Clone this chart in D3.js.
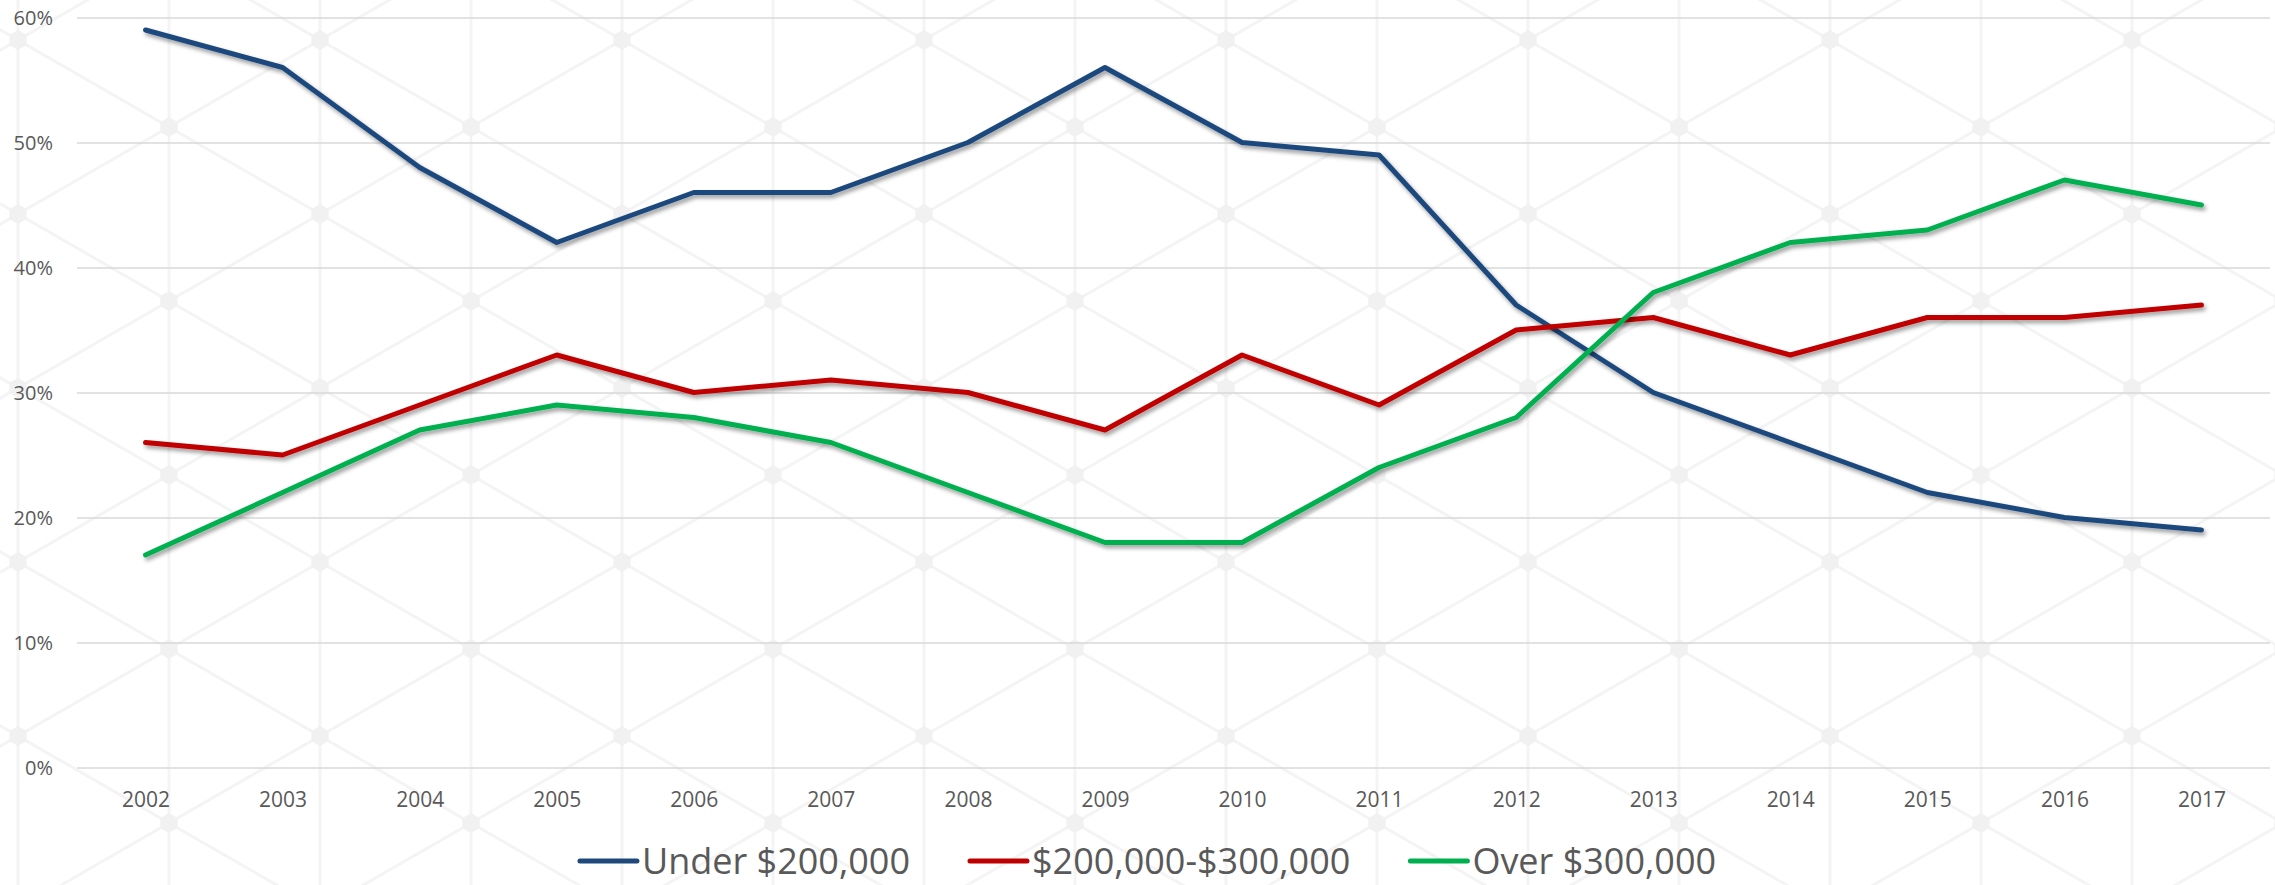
<!DOCTYPE html>
<html>
<head>
<meta charset="utf-8">
<script src="https://cdn.jsdelivr.net/npm/d3@7"></script>
<style>
  html, body { margin: 0; padding: 0; background: #fff; }
  #svg-container { width: 2275px; height: 885px; }
  text { font-family: "Open Sans", sans-serif; fill: #595959; }
</style>
</head>
<body>
<div id="svg-container"></div>
<script>
//////////////////////////////  Data  //////////////////////////////
const years = ["2002", "2003", "2004", "2005", "2006", "2007", "2008", "2009",
  "2010", "2011", "2012", "2013", "2014", "2015", "2016", "2017"];
const under200 = [59, 56, 48, 42, 46, 46, 50, 56, 50, 49, 37, 30, 26, 22, 20, 19];
const mid200to300 = [26, 25, 29, 33, 30, 31, 30, 27, 33, 29, 35, 36, 33, 36, 36, 37];
const over300 = [17, 22, 27, 29, 28, 26, 22, 18, 18, 24, 28, 38, 42, 43, 47, 45];
const seriesNames = ["Under $200,000", "$200,000-$300,000", "Over $300,000"];
const yTicks = [0, 10, 20, 30, 40, 50, 60];

const series = [
  { name: seriesNames[0], values: under200, color: "#1f497d" },
  { name: seriesNames[1], values: mid200to300, color: "#c00000" },
  { name: seriesNames[2], values: over300, color: "#00b050" }
];

//////////////////////////////  Init  //////////////////////////////
const width = 2275;
const height = 885;
const margin = { top: 17.5, right: 5, bottom: 117.5, left: 77 };

const svg = d3.select("#svg-container").append("svg")
  .attr("width", width)
  .attr("height", height);

const defs = svg.append("defs");

// faint hex lattice background
const pw = 302, ph = 174;
const pat = defs.append("pattern")
  .attr("id", "lattice")
  .attr("patternUnits", "userSpaceOnUse")
  .attr("x", 18).attr("y", 40)
  .attr("width", pw).attr("height", ph);

const latticeLines = [
  [0, 0, 151, 87], [151, 87, 302, 174], [302, 0, 151, 87], [151, 87, 0, 174],
  [0, 0, 0, ph], [151, 0, 151, ph], [302, 0, 302, ph]
];
pat.selectAll("line").data(latticeLines).join("line")
  .attr("x1", d => d[0]).attr("y1", d => d[1])
  .attr("x2", d => d[2]).attr("y2", d => d[3])
  .attr("stroke", "#f4f4f4")
  .attr("stroke-width", 3);

const hex = d3.range(6).map(i => {
  const a = Math.PI / 3 * i + Math.PI / 6;
  return [10 * Math.cos(a), 10 * Math.sin(a)];
});
pat.selectAll("polygon").data([[0, 0], [302, 0], [151, 87], [0, 174], [302, 174]]).join("polygon")
  .attr("points", hex.map(p => p.join(",")).join(" "))
  .attr("transform", d => `translate(${d[0]},${d[1]})`)
  .attr("fill", "#f1f1f1");

svg.append("rect")
  .attr("width", width).attr("height", height)
  .attr("fill", "url(#lattice)");

// line shadow
const shadow = defs.append("filter")
  .attr("id", "shadow")
  .attr("x", "-5%").attr("y", "-10%")
  .attr("width", "110%").attr("height", "130%");
shadow.append("feDropShadow")
  .attr("dx", 2).attr("dy", 3)
  .attr("stdDeviation", 2.2)
  .attr("flood-color", "#000")
  .attr("flood-opacity", 0.4);

//////////////////////////////  Scales  //////////////////////////////
const xScale = d3.scalePoint()
  .domain(years)
  .range([margin.left, width - margin.right])
  .padding(0.5);

const yScale = d3.scaleLinear()
  .domain([0, 60])
  .range([height - margin.bottom, margin.top]);

// axis
const yAxis = d3.axisLeft(yScale)
  .tickValues(yTicks)
  .tickFormat(d => d + "%")
  .tickSize(-(width - margin.left - margin.right))
  .tickPadding(24);

const xAxis = d3.axisBottom(xScale)
  .tickSize(0)
  .tickPadding(25);

const gy = svg.append("g")
  .attr("class", "y-axis")
  .attr("transform", `translate(${margin.left},0)`)
  .call(yAxis);
gy.select(".domain").remove();
gy.selectAll(".tick line").attr("stroke", "#d9d9d9").attr("stroke-width", 1.6);
gy.selectAll(".tick text")
  .attr("font-size", 20)
  .attr("font-family", "Open Sans, sans-serif")
  .attr("fill", "#595959")
  .attr("dy", "0.36em");

const gx = svg.append("g")
  .attr("class", "x-axis")
  .attr("transform", `translate(0,${height - margin.bottom})`)
  .call(xAxis);
gx.select(".domain").remove();
gx.selectAll(".tick text")
  .attr("font-size", 21)
  .attr("font-family", "Open Sans, sans-serif")
  .attr("fill", "#595959");

//////////////////////////////  Lines  //////////////////////////////
const line = d3.line()
  .x((d, i) => xScale(years[i]))
  .y(d => yScale(d));

svg.append("g")
  .selectAll("path")
  .data(series)
  .join("path")
  .attr("d", d => line(d.values))
  .attr("fill", "none")
  .attr("stroke", d => d.color)
  .attr("stroke-width", 5)
  .attr("stroke-linejoin", "round")
  .attr("stroke-linecap", "round")
  .attr("filter", "url(#shadow)");

//////////////////////////////  Legend  //////////////////////////////
const legend = svg.append("g").attr("class", "legend");
const sampleW = 57, sampleGap = 5, itemGap = 60;
const legendY = 861;

const items = legend.selectAll("g")
  .data(series)
  .join("g");

items.append("line")
  .attr("x1", 0).attr("x2", sampleW)
  .attr("y1", 0).attr("y2", 0)
  .attr("stroke", d => d.color)
  .attr("stroke-width", 5)
  .attr("stroke-linecap", "round");

items.append("text")
  .attr("x", sampleW + sampleGap)
  .attr("y", 13)
  .attr("font-size", 36)
  .text(d => d.name);

// lay the items out side by side, centred
let widths = [];
items.each(function () {
  widths.push(sampleW + sampleGap + d3.select(this).select("text").node().getComputedTextLength());
});
const total = d3.sum(widths) + itemGap * (widths.length - 1);
let cx = 1148 - total / 2;
items.attr("transform", (d, i) => {
  const t = `translate(${cx},${legendY})`;
  cx += widths[i] + itemGap;
  return t;
});
</script>
</body>
</html>
